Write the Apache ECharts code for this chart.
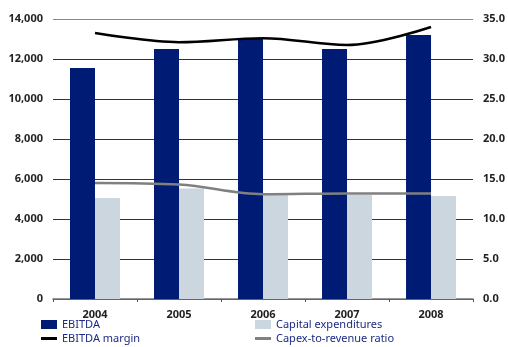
<!DOCTYPE html>
<html>
<head>
<meta charset="utf-8">
<script src="https://cdn.jsdelivr.net/npm/echarts@6/dist/echarts.min.js"></script>
<style>
html,body{margin:0;padding:0;background:#fff;}
#chart{width:508px;height:347px;}
</style>
</head>
<body>
<div id="chart"></div>
<script>
// Yearly figures
const years = ['2004', '2005', '2006', '2007', '2008'];
const ebitda = [11550, 12500, 13000, 12500, 13200];
const capex = [5050, 5530, 5210, 5200, 5150];
const ebitdaMargin = [33.25, 32.1, 32.6, 31.75, 34.0];
const capexRatio = [14.5, 14.3, 13.1, 13.2, 13.2];

const leftTicks = { min: 0, max: 14000, interval: 2000 };
const rightTicks = { min: 0, max: 35, interval: 5 };

const navy = '#001b73';
const lightBlue = '#cbd6df';
const labelFont = { fontFamily: 'Noto Sans', fontSize: 11, fontWeight: 'bold', color: '#222' };
const legendText = { fontFamily: 'Noto Sans', fontSize: 11, color: '#1c2a86' };

// one legend block per entry so bar swatches and line strokes get their own sizes
function legendBlock(name, left, top, isLine) {
  return {
    left: left, top: top, padding: 0,
    icon: 'rect', itemWidth: 16, itemHeight: isLine ? 3 : 9,
    textStyle: legendText, data: [name]
  };
}

const chart = echarts.init(document.getElementById('chart'), null, { renderer: 'canvas' });
chart.setOption({
  animation: false,
  grid: { left: 53, right: 32, top: 19, bottom: 48 },
  legend: [
    legendBlock('EBITDA', 41, 319, false),
    legendBlock('EBITDA margin', 41, 333, true),
    legendBlock('Capital expenditures', 255, 319, false),
    legendBlock('Capex-to-revenue ratio', 255, 333, true)
  ],
  xAxis: {
    type: 'category',
    data: years,
    boundaryGap: true,
    axisLine: { lineStyle: { color: '#777', width: 1.5 } },
    axisTick: { show: true, length: 3, lineStyle: { color: '#555' } },
    axisLabel: Object.assign({ margin: 10 }, labelFont)
  },
  yAxis: [
    {
      type: 'value',
      min: leftTicks.min, max: leftTicks.max, interval: leftTicks.interval,
      axisLine: { show: false },
      axisTick: { show: false },
      splitLine: { lineStyle: { color: ['#333', '#333', '#333', '#333', '#333', '#333', '#333', '#8a8a8a'], width: 1.2 } },
      axisLabel: Object.assign({
        margin: 10,
        formatter: v => v.toLocaleString('en-US')
      }, labelFont)
    },
    {
      type: 'value',
      position: 'right',
      min: rightTicks.min, max: rightTicks.max, interval: rightTicks.interval,
      axisLine: { show: false },
      axisTick: { show: false },
      splitLine: { show: false },
      axisLabel: Object.assign({
        margin: 10,
        formatter: v => v.toFixed(1)
      }, labelFont)
    }
  ],
  series: [
    {
      name: 'EBITDA', type: 'bar', data: ebitda, barWidth: 25, barGap: '0%',
      itemStyle: { color: navy }
    },
    {
      name: 'Capital expenditures', type: 'bar', data: capex, barWidth: 25, barGap: '0%',
      itemStyle: { color: lightBlue }
    },
    {
      name: 'EBITDA margin', type: 'line', yAxisIndex: 1, data: ebitdaMargin,
      smooth: 0.35, symbol: 'none',
      lineStyle: { color: '#000', width: 2.5 }, itemStyle: { color: '#000' }
    },
    {
      name: 'Capex-to-revenue ratio', type: 'line', yAxisIndex: 1, data: capexRatio,
      smooth: 0.35, symbol: 'none',
      lineStyle: { color: '#808080', width: 2.5 }, itemStyle: { color: '#808080' }
    }
  ]
});
</script>
</body>
</html>
